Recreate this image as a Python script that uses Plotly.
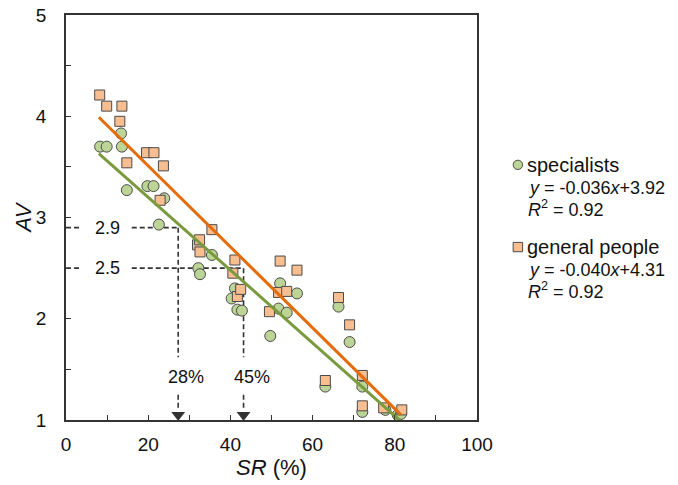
import plotly.graph_objects as go
import numpy as np

# ---------------- data ----------------
spec_sr = [8.3, 9.9, 13.4, 13.6, 14.8, 19.8, 21.3, 22.6, 23.9, 32.2, 32.6, 35.5, 40.3, 41.1, 41.7, 42.8,
           49.7, 51.7, 52.1, 53.7, 56.2, 63.1, 66.3, 69.0, 72.1, 72.1, 77.7, 80.7, 81.5]
spec_av = [3.70, 3.70, 3.83, 3.70, 3.27, 3.31, 3.31, 2.93, 3.19, 2.50, 2.44, 2.63, 2.20, 2.30, 2.09, 2.08,
           1.83, 2.10, 2.35, 2.06, 2.25, 1.33, 2.12, 1.77, 1.33, 1.08, 1.10, 1.05, 1.06]

gen_sr = [8.2, 9.9, 13.6, 13.1, 14.8, 19.6, 21.4, 23.7, 22.9, 32.0, 32.5, 32.6, 35.5, 40.6, 41.1, 41.7, 42.5,
          49.5, 51.7, 52.1, 53.7, 56.2, 63.1, 66.3, 69.0, 72.1, 72.1, 77.3, 81.7]
gen_av = [4.21, 4.10, 4.10, 3.95, 3.54, 3.64, 3.64, 3.51, 3.17, 2.73, 2.78, 2.66, 2.88, 2.45, 2.58, 2.22, 2.29,
          2.07, 2.26, 2.57, 2.27, 2.48, 1.39, 2.21, 1.94, 1.44, 1.14, 1.12, 1.10]

series_names = ["specialists", "general people"]
fit_slope = [-0.036, -0.040]
fit_intercept = [3.92, 4.31]
fit_r2 = [0.92, 0.92]
fit_range = [8.0, 81.5]

ref_av = [2.9, 2.5]
ref_sr = [27.3, 43.2]
ref_pct_labels = ["28%", "45%"]

x_ticks = [0, 20, 40, 60, 80, 100]
y_ticks = [1, 2, 3, 4, 5]

# ---------------- style ----------------
FONT = "Liberation Sans, Arial, sans-serif"
GREEN_FILL = "#BCD496"
ORANGE_FILL = "#F9BE8F"
GREEN_LINE = "#7A9A3E"
ORANGE_LINE = "#E46C0A"
EDGE = "#4a4a4a"
DASH = "#333333"

fig = go.Figure()

fig.add_trace(go.Scatter(x=spec_sr, y=spec_av, mode="markers", name=series_names[0],
                         marker=dict(symbol="circle", size=11, color=GREEN_FILL,
                                     line=dict(color=EDGE, width=1))))
fig.add_trace(go.Scatter(x=gen_sr, y=gen_av, mode="markers", name=series_names[1],
                         marker=dict(symbol="square", size=10, color=ORANGE_FILL,
                                     line=dict(color=EDGE, width=1))))

fx = np.array(fit_range)
for s, b, c in zip(fit_slope, fit_intercept, [GREEN_LINE, ORANGE_LINE]):
    fig.add_trace(go.Scatter(x=fx, y=s * fx + b, mode="lines",
                             line=dict(color=c, width=3), hoverinfo="skip"))

# reference dashed guides
label_x = 10.0
label_y = 1.42
dash_style = dict(color=DASH, width=1.6, dash="5px,3px")
for av, sr, pl in zip(ref_av, ref_sr, ref_pct_labels):
    fig.add_shape(type="line", x0=0, x1=3.9, y0=av, y1=av, line=dash_style, layer="below")
    fig.add_shape(type="line", x0=16.0, x1=sr, y0=av, y1=av, line=dash_style, layer="below")
    fig.add_shape(type="line", x0=sr, x1=sr, y0=av, y1=1.62, line=dash_style, layer="below")
    fig.add_shape(type="line", x0=sr, x1=sr, y0=1.25, y1=1.10, line=dash_style, layer="below")
    fig.add_annotation(x=label_x, y=av, text=f"{av}", showarrow=False,
                       font=dict(family=FONT, size=18, color="#111"))
    fig.add_annotation(x=sr + 2.0, y=label_y, text=pl, showarrow=False,
                       font=dict(family=FONT, size=18, color="#111"))

fig.add_trace(go.Scatter(x=ref_sr, y=[1.05] * len(ref_sr), mode="markers",
                         marker=dict(symbol="triangle-down", size=12, color=DASH),
                         hoverinfo="skip"))

# custom legend
leg_items = [
    (0.630, "circle", GREEN_FILL),
    (0.427, "square", ORANGE_FILL),
]
for (yp, shp, fill), name, s, b, r2 in zip(leg_items, series_names, fit_slope, fit_intercept, fit_r2):
    fig.add_shape(type=shp if shp == "circle" else "rect", xref="paper", yref="paper",
                  x0=1.088, x1=1.111, y0=yp - 0.0115, y1=yp + 0.0115,
                  fillcolor=fill, line=dict(color=EDGE, width=1), layer="above")
    fig.add_annotation(xref="paper", yref="paper", x=1.116, y=yp, xanchor="left", yanchor="middle",
                       text=name, showarrow=False, font=dict(family=FONT, size=20, color="#111"))
    eq = f"<i>y</i> = {s:.3f}<i>x</i>+{b:.2f}"
    fig.add_annotation(xref="paper", yref="paper", x=1.12, y=yp - 0.057, xanchor="left", yanchor="middle",
                       text=eq, showarrow=False, font=dict(family=FONT, size=18, color="#111"))
    fig.add_annotation(xref="paper", yref="paper", x=1.12, y=yp - 0.108, xanchor="left", yanchor="middle",
                       text=f"<i>R</i><sup>2</sup> = {r2:.2f}", showarrow=False,
                       font=dict(family=FONT, size=18, color="#111"))

# y-axis title placed as rotated annotation
fig.add_annotation(xref="paper", yref="paper", x=-0.104, y=0.5, xanchor="center", yanchor="middle",
                   text="<i>AV</i>", textangle=-90, showarrow=False,
                   font=dict(family=FONT, size=22, color="#111"))

fig.update_layout(
    width=678, height=485,
    margin=dict(l=66, r=201, t=15, b=65),
    paper_bgcolor="white", plot_bgcolor="white",
    showlegend=False,
    font=dict(family=FONT, size=19, color="#111"),
)
fig.update_xaxes(range=[0, 100], tickvals=x_ticks, ticks="inside", ticklen=5, tickcolor="#333",
                 minor=dict(dtick=10, ticks="inside", ticklen=5, tickcolor="#333"),
                 showline=True, linecolor="#333", linewidth=1.6, mirror=True,
                 showgrid=False, zeroline=False, automargin=False,
                 tickfont=dict(family=FONT, size=19, color="#111"), ticklabelstandoff=6,
                 title=dict(text="<i>SR</i> (%)", font=dict(family=FONT, size=22, color="#111"), standoff=6))
fig.update_yaxes(range=[1, 5], tickvals=y_ticks, ticks="inside", ticklen=5, tickcolor="#333",
                 minor=dict(dtick=0.5, ticks="inside", ticklen=5, tickcolor="#333"),
                 showline=True, linecolor="#333", linewidth=1.6, mirror=True,
                 showgrid=False, zeroline=False, automargin=False,
                 tickfont=dict(family=FONT, size=19, color="#111"), ticklabelstandoff=14)

fig.write_html("out.html")
